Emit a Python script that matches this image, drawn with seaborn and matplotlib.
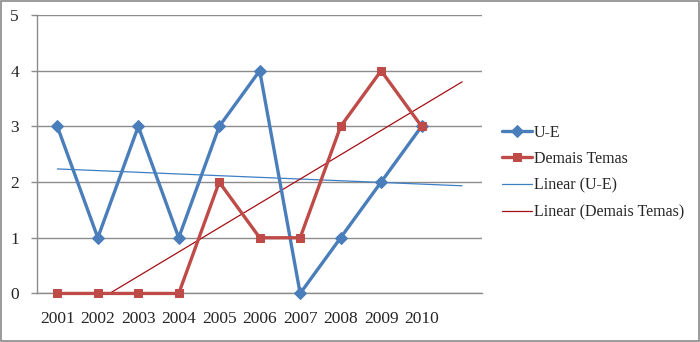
import numpy as np
import pandas as pd
import seaborn as sns
import matplotlib
matplotlib.use("Agg")
import matplotlib.pyplot as plt
from matplotlib.patches import Rectangle

years = ["2001", "2002", "2003", "2004", "2005", "2006", "2007", "2008", "2009", "2010"]
ue = [3, 1, 3, 1, 3, 4, 0, 1, 2, 3]
demais = [0, 0, 0, 0, 2, 1, 1, 3, 4, 3]

blue = "#4a7ebb"
red = "#be4b48"
trend_blue = "#3c7fc4"
trend_red = "#a50f15"
grid_c = "#8c8c8c"

sns.set_style("white")
plt.rcParams["font.family"] = ["Liberation Serif", "DejaVu Serif"]

fig = plt.figure(figsize=(7.0, 3.42), dpi=100)
ax = fig.add_axes([0.053, 0.142, 0.636, 0.814])

pos = np.arange(len(years))
df = pd.DataFrame({"pos": pos, "U-E": ue, "Demais Temas": demais})

sns.lineplot(data=df, x="pos", y="U-E", ax=ax, color=blue, lw=2.4,
             marker="D", markersize=6.5, markeredgecolor=blue,
             label="U-E", clip_on=False, zorder=4)
sns.lineplot(data=df, x="pos", y="Demais Temas", ax=ax, color=red, lw=2.4,
             marker="s", markersize=5.5, markeredgecolor=red,
             label="Demais Temas", clip_on=False, zorder=4)

# linear trendlines, forecast one period forward (like Excel)
ext = np.arange(len(years) + 1)
for vals, c, name in [(ue, trend_blue, "Linear (U-E)"),
                      (demais, trend_red, "Linear (Demais Temas)")]:
    k, b = np.polyfit(pos, vals, 1)
    sns.lineplot(x=ext, y=k * ext + b, ax=ax, color=c, lw=0.9, label=name, zorder=3)

ax.set_xlim(-0.5, len(years) + 0.5)
ax.set_ylim(0, 5)
ax.set_yticks(range(0, 6))
ax.set_xticks(pos)
ax.set_xticklabels(years)
ax.set_xticks(np.arange(-0.5, len(years) + 1, 1), minor=True)
ax.tick_params(axis="x", which="major", length=0, pad=13, labelsize=12.5)
ax.tick_params(axis="x", which="minor", length=5, width=1, color=grid_c, direction="out")
ax.tick_params(axis="y", length=4, width=1, color=grid_c, pad=9, labelsize=12.5, left=True)
ax.set_xlabel("")
ax.set_ylabel("")
ax.yaxis.grid(True, color=grid_c, lw=1)
ax.set_axisbelow(True)
for s in ["top", "right"]:
    ax.spines[s].set_visible(False)
for s in ["left", "bottom"]:
    ax.spines[s].set_color(grid_c)
    ax.spines[s].set_linewidth(1)

ax.legend(loc="center left", bbox_to_anchor=(1.012, 0.435), frameon=False,
          fontsize=11.5, handlelength=1.85, handletextpad=0.15, labelspacing=0.66)

fig.patches.append(Rectangle((0.001, 0.002), 0.997, 0.995, transform=fig.transFigure,
                             fill=False, edgecolor="#8a8a8a", lw=1.2))

fig.savefig("out.png", dpi=100)
